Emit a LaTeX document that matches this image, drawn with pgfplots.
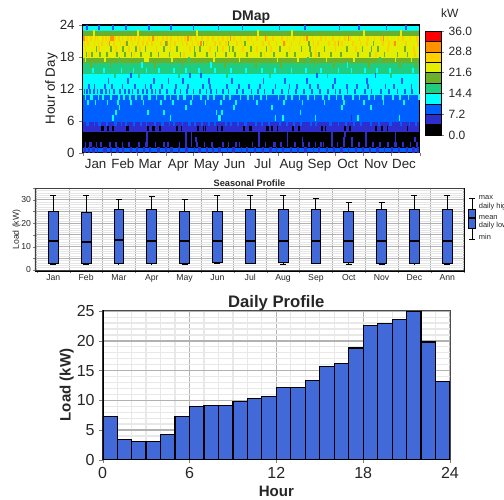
\documentclass[border=0pt]{standalone}
\usepackage{fontspec}
\setmainfont{Liberation Sans}
\usepackage{pgfplots}
\pgfplotsset{compat=1.18}
\usepgfplotslibrary{statistics}

\definecolor{lvla}{HTML}{000000}
\definecolor{lvlb}{HTML}{2E2ECF}
\definecolor{lvlc}{HTML}{0060FF}
\definecolor{lvld}{HTML}{00FFFF}
\definecolor{lvle}{HTML}{1FCC80}
\definecolor{lvlf}{HTML}{6AB02A}
\definecolor{lvlg}{HTML}{E4EE00}
\definecolor{lvlh}{HTML}{FFD000}
\definecolor{lvli}{HTML}{FF9000}
\definecolor{lvlj}{HTML}{FF0000}
\definecolor{barblue}{HTML}{4169D8}

% one day by one hour of the heat map
\pgfdeclareplotmark{cell}{\pgfpathrectangle{\pgfpoint{-0.62pt}{-2pt}}{\pgfpoint{1.24pt}{4pt}}\pgfusepathqfill}

\pgfplotsset{
  every axis/.append style={/pgf/number format/assume math mode=true},
  cells/.style={only marks,mark=cell,mark options={draw=none,fill=#1},forget plot},
  colormap={dmap}{color=(lvla) color=(lvlb) color=(lvlc) color=(lvld) color=(lvle)
    color=(lvlf) color=(lvlg) color=(lvlh) color=(lvli) color=(lvlj)},
  seasbox/.style={boxplot prepared={draw position=#1},fill=barblue,draw=black,line width=0.75pt,solid,
    boxplot/box extend=0.3,boxplot/whisker extend=0.18}
}

\begin{document}
\begin{tikzpicture}
\useasboundingbox (0,0) rectangle (378pt,-375pt);

% ---- DMap
\begin{axis}[
  at={(62pt,-18.75pt)},anchor=north west,scale only axis,
  width=252.75pt,height=95.8pt,
  xmin=0,xmax=365,ymin=0,ymax=24,
  xtick={0,31,59,90,120,151,181,212,243,273,304,334,365},
  xticklabels={Jan,Feb,Mar,Apr,May,Jun,Jul,Aug,Sep,Oct,Nov,Dec},
  x tick label as interval,
  ytick={0,6,...,24},
  tick align=outside,tick pos=left,
  tick label style={font=\fontsize{10}{12}\selectfont,text=black!85},
  xticklabel style={xshift=-1pt,yshift=1.5pt,text height=7.3pt,text depth=0pt},
  major tick length=2.5pt,
  title={DMap},
  title style={font=\bfseries\fontsize{10.5}{12}\selectfont,text=black!85,yshift=-8.5pt},
  ylabel={Hour of Day},
  every axis y label/.style={at={(rel axis cs:0,0.5)},rotate=90,anchor=center,yshift=23.5pt,
    font=\fontsize{10}{12}\selectfont,text=black!90},
  colormap name=dmap,colormap access=piecewise constant,
  point meta min=0,point meta max=36,
  axis on top,axis line style={line width=0.8pt}
]
\addplot[matrix plot*,mesh/cols=2,point meta=explicit] table[meta=c] {
x y c
0 0.5 9
365 0.5 9
0 1.5 1.8
365 1.5 1.8
0 2.5 1.8
365 2.5 1.8
0 3.5 1.8
365 3.5 1.8
0 4.5 5.4
365 4.5 5.4
0 5.5 5.4
365 5.5 5.4
0 6.5 9
365 6.5 9
0 7.5 9
365 7.5 9
0 8.5 9
365 8.5 9
0 9.5 9
365 9.5 9
0 10.5 9
365 10.5 9
0 11.5 12.6
365 11.5 12.6
0 12.5 12.6
365 12.5 12.6
0 13.5 12.6
365 13.5 12.6
0 14.5 12.6
365 14.5 12.6
0 15.5 16.2
365 15.5 16.2
0 16.5 16.2
365 16.5 16.2
0 17.5 19.8
365 17.5 19.8
0 18.5 23.4
365 18.5 23.4
0 19.5 23.4
365 19.5 23.4
0 20.5 23.4
365 20.5 23.4
0 21.5 23.4
365 21.5 23.4
0 22.5 19.8
365 22.5 19.8
0 23.5 12.6
365 23.5 12.6
};
\addplot[cells=lvla] coordinates {
(21,4.5)(22,4.5)(27,4.5)(28,4.5)(33,4.5)(48,4.5)(49,4.5)(71,4.5)(76,4.5)(77,4.5)(84,4.5)(102,4.5)(107,4.5)(125,4.5)(131,4.5)(133,4.5)(146,4.5)(151,4.5)(175,4.5)(181,4.5)(182,4.5)(200,4.5)(201,4.5)(205,4.5)(211,4.5)(228,4.5)(234,4.5)(259,4.5)(263,4.5)(284,4.5)(289,4.5)(290,4.5)(318,4.5)(324,4.5)(330,4.5)(352,4.5)
};
\addplot[cells=lvlb] coordinates {
(2,.5)(3,.5)(7,.5)(11,.5)(12,.5)(16,.5)(23,.5)(24,.5)(25,.5)(31,.5)(37,.5)(38,.5)(44,.5)(52,.5)(53,.5)(59,.5)(66,.5)(67,.5)(73,.5)(81,.5)(82,.5)(83,.5)(90,.5)(96,.5)(97,.5)(104,.5)(112,.5)(113,.5)(121,.5)(126,.5)(127,.5)(135,.5)(141,.5)(148,.5)(149,.5)(157,.5)(163,.5)(164,.5)(172,.5)(178,.5)(186,.5)(187,.5)(195,.5)(203,.5)(204,.5)(210,.5)(217,.5)(225,.5)(226,.5)(233,.5)(241,.5)(242,.5)(250,.5)(256,.5)(264,.5)(265,.5)(272,.5)(280,.5)(281,.5)(288,.5)(296,.5)(303,.5)(304,.5)(311,.5)(319,.5)(320,.5)(327,.5)(335,.5)(342,.5)(343,.5)(351,.5)(358,.5)(359,.5)(363,.5)
(3,1.5)(8,1.5)(9,1.5)(15,1.5)(20,1.5)(29,1.5)(30,1.5)(36,1.5)(43,1.5)(50,1.5)(61,1.5)(68,1.5)(70,1.5)(79,1.5)(88,1.5)(92,1.5)(93,1.5)(105,1.5)(112,1.5)(118,1.5)(124,1.5)(132,1.5)(140,1.5)(152,1.5)(158,1.5)(166,1.5)(170,1.5)(184,1.5)(191,1.5)(198,1.5)(207,1.5)(208,1.5)(215,1.5)(222,1.5)(230,1.5)(238,1.5)(239,1.5)(245,1.5)(252,1.5)(258,1.5)(261,1.5)(270,1.5)(276,1.5)(283,1.5)(292,1.5)(299,1.5)(307,1.5)(314,1.5)(315,1.5)(322,1.5)(331,1.5)(338,1.5)(339,1.5)(340,1.5)(347,1.5)(355,1.5)(362,1.5)
(70,2.5)(112,2.5)(118,2.5)(123,2.5)(191,2.5)(222,2.5)(238,2.5)(270,2.5)(283,2.5)(292,2.5)(307,2.5)(339,2.5)(360,2.5)
(70,3.5)(112,3.5)(118,3.5)(191,3.5)(222,3.5)(270,3.5)(284,3.5)(307,3.5)(339,3.5)
(150,6.5)(291,6.5)
};
\addplot[cells=lvlc] coordinates {
(4,5.5)(5,5.5)(6,5.5)(13,5.5)(18,5.5)(19,5.5)(26,5.5)(35,5.5)(36,5.5)(42,5.5)(47,5.5)(55,5.5)(56,5.5)(63,5.5)(69,5.5)(78,5.5)(86,5.5)(87,5.5)(94,5.5)(99,5.5)(108,5.5)(115,5.5)(116,5.5)(122,5.5)(129,5.5)(137,5.5)(143,5.5)(144,5.5)(155,5.5)(161,5.5)(168,5.5)(176,5.5)(177,5.5)(188,5.5)(194,5.5)(202,5.5)(213,5.5)(214,5.5)(221,5.5)(229,5.5)(236,5.5)(237,5.5)(247,5.5)(253,5.5)(268,5.5)(269,5.5)(277,5.5)(285,5.5)(294,5.5)(301,5.5)(302,5.5)(312,5.5)(321,5.5)(333,5.5)(334,5.5)(345,5.5)(354,5.5)(361,5.5)
};
\addplot[cells=lvld] coordinates {
(33,6.5)(95,6.5)(148,6.5)(149,6.5)(209,6.5)(217,6.5)(252,6.5)(298,6.5)(343,6.5)
(36,7.5)(71,7.5)(88,7.5)(145,7.5)(151,7.5)(236,7.5)
(40,8.5)(112,8.5)(164,8.5)(205,8.5)(281,8.5)(312,8.5)
(6,9.5)(14,9.5)(27,9.5)(38,9.5)(52,9.5)(66,9.5)(85,9.5)(98,9.5)(117,9.5)(133,9.5)(150,9.5)(166,9.5)(189,9.5)(218,9.5)(238,9.5)(262,9.5)(283,9.5)(305,9.5)(326,9.5)(348,9.5)
(3,10.5)(9,10.5)(10,10.5)(17,10.5)(22,10.5)(30,10.5)(31,10.5)(39,10.5)(45,10.5)(51,10.5)(58,10.5)(64,10.5)(72,10.5)(73,10.5)(80,10.5)(89,10.5)(95,10.5)(103,10.5)(110,10.5)(111,10.5)(119,10.5)(128,10.5)(136,10.5)(142,10.5)(153,10.5)(159,10.5)(160,10.5)(171,10.5)(179,10.5)(185,10.5)(193,10.5)(199,10.5)(212,10.5)(220,10.5)(227,10.5)(235,10.5)(244,10.5)(251,10.5)(260,10.5)(267,10.5)(275,10.5)(282,10.5)(293,10.5)(300,10.5)(310,10.5)(316,10.5)(325,10.5)(336,10.5)(344,10.5)(353,10.5)(364,10.5)
};
\addplot[cells=lvlc] coordinates {
(2,11.5)(5,11.5)(8,11.5)(12,11.5)(16,11.5)(20,11.5)(21,11.5)(25,11.5)(29,11.5)(34,11.5)(40,11.5)(41,11.5)(46,11.5)(50,11.5)(54,11.5)(60,11.5)(65,11.5)(70,11.5)(75,11.5)(79,11.5)(84,11.5)(91,11.5)(92,11.5)(100,11.5)(106,11.5)(113,11.5)(120,11.5)(127,11.5)(134,11.5)(139,11.5)(145,11.5)(152,11.5)(158,11.5)(167,11.5)(174,11.5)(183,11.5)(190,11.5)(197,11.5)(206,11.5)(216,11.5)(223,11.5)(231,11.5)(240,11.5)(248,11.5)(249,11.5)(257,11.5)(266,11.5)(274,11.5)(279,11.5)(287,11.5)(295,11.5)(306,11.5)(313,11.5)(323,11.5)(332,11.5)(341,11.5)(349,11.5)(357,11.5)
(7,12.5)(13,12.5)(24,12.5)(32,12.5)(43,12.5)(57,12.5)(68,12.5)(74,12.5)(86,12.5)(101,12.5)(114,12.5)(130,12.5)(138,12.5)(156,12.5)(169,12.5)(180,12.5)(192,12.5)(209,12.5)(224,12.5)(232,12.5)(246,12.5)(255,12.5)(271,12.5)(286,12.5)(297,12.5)(309,12.5)(328,12.5)(337,12.5)(356,12.5)
(28,13.5)(49,13.5)(77,13.5)(93,13.5)(109,13.5)(137,13.5)(162,13.5)(196,13.5)(219,13.5)(243,13.5)(273,13.5)(308,13.5)(346,13.5)
(52,14.5)(116,14.5)(128,14.5)(254,14.5)(317,14.5)
(5,23.5)(18,23.5)(33,23.5)(47,23.5)(72,23.5)(96,23.5)(120,23.5)(147,23.5)(173,23.5)(213,23.5)(241,23.5)(278,23.5)(299,23.5)(329,23.5)(350,23.5)
};
\addplot[cells=lvle] coordinates {
(35,14.5)(61,14.5)(104,14.5)(156,14.5)(203,14.5)(265,14.5)(334,14.5)
(40,17.5)(115,17.5)(244,17.5)(322,17.5)
};
\addplot[cells=lvld] coordinates {
(11,15.5)(23,15.5)(42,15.5)(55,15.5)(69,15.5)(83,15.5)(99,15.5)(112,15.5)(126,15.5)(143,15.5)(161,15.5)(177,15.5)(194,15.5)(208,15.5)(226,15.5)(242,15.5)(258,15.5)(277,15.5)(291,15.5)(306,15.5)(319,15.5)(333,15.5)(358,15.5)
(64,16.5)(139,16.5)(287,16.5)
};
\addplot[cells=lvlf] coordinates {
(9,16.5)(30,16.5)(78,16.5)(108,16.5)(154,16.5)(188,16.5)(215,16.5)(251,16.5)(272,16.5)(310,16.5)(344,16.5)(361,16.5)
(4,18.5)(10,18.5)(19,18.5)(26,18.5)(37,18.5)(46,18.5)(53,18.5)(63,18.5)(74,18.5)(82,18.5)(94,18.5)(106,18.5)(122,18.5)(135,18.5)(144,18.5)(155,18.5)(165,18.5)(178,18.5)(193,18.5)(207,18.5)(221,18.5)(230,18.5)(247,18.5)(256,18.5)(269,18.5)(280,18.5)(298,18.5)(311,18.5)(327,18.5)(341,18.5)(352,18.5)
(15,19.5)(31,19.5)(44,19.5)(58,19.5)(68,19.5)(88,19.5)(102,19.5)(121,19.5)(127,19.5)(146,19.5)(159,19.5)(163,19.5)(182,19.5)(199,19.5)(214,19.5)(237,19.5)(246,19.5)(262,19.5)(286,19.5)(303,19.5)(313,19.5)(320,19.5)(349,19.5)
(48,20.5)(90,20.5)(131,20.5)(158,20.5)(176,20.5)(245,20.5)(315,20.5)
};
\addplot[cells=lvlg] coordinates {
(3,17.5)(24,17.5)(67,17.5)(68,17.5)(69,17.5)(70,17.5)(71,17.5)(97,17.5)(142,17.5)(170,17.5)(211,17.5)(233,17.5)(264,17.5)(294,17.5)(339,17.5)(356,17.5)
(12,22.5)(60,22.5)(124,22.5)(190,22.5)(227,22.5)(305,22.5)(345,22.5)
};
\addplot[cells=lvlh] coordinates {
(7,18.5)(56,18.5)(110,18.5)(197,18.5)(253,18.5)(318,18.5)(360,18.5)
(3,19.5)(18,19.5)(36,19.5)(50,19.5)(62,19.5)(80,19.5)(95,19.5)(116,19.5)(138,19.5)(152,19.5)(174,19.5)(189,19.5)(204,19.5)(224,19.5)(252,19.5)(274,19.5)(296,19.5)(331,19.5)(359,19.5)
(2,20.5)(6,20.5)(13,20.5)(17,20.5)(21,20.5)(27,20.5)(34,20.5)(41,20.5)(46,20.5)(54,20.5)(60,20.5)(65,20.5)(70,20.5)(75,20.5)(85,20.5)(95,20.5)(100,20.5)(108,20.5)(113,20.5)(119,20.5)(125,20.5)(134,20.5)(143,20.5)(149,20.5)(155,20.5)(167,20.5)(172,20.5)(185,20.5)(195,20.5)(202,20.5)(210,20.5)(219,20.5)(226,20.5)(235,20.5)(250,20.5)(255,20.5)(267,20.5)(273,20.5)(281,20.5)(293,20.5)(301,20.5)(308,20.5)(325,20.5)(332,20.5)(337,20.5)(350,20.5)(363,20.5)
(4,21.5)(5,21.5)(9,21.5)(14,21.5)(16,21.5)(22,21.5)(25,21.5)(28,21.5)(35,21.5)(39,21.5)(43,21.5)(49,21.5)(52,21.5)(57,21.5)(61,21.5)(66,21.5)(72,21.5)(77,21.5)(81,21.5)(87,21.5)(91,21.5)(96,21.5)(103,21.5)(107,21.5)(111,21.5)(117,21.5)(123,21.5)(129,21.5)(136,21.5)(141,21.5)(147,21.5)(152,21.5)(157,21.5)(164,21.5)(171,21.5)(179,21.5)(183,21.5)(189,21.5)(200,21.5)(206,21.5)(216,21.5)(222,21.5)(229,21.5)(236,21.5)(240,21.5)(249,21.5)(258,21.5)(263,21.5)(271,21.5)(278,21.5)(284,21.5)(290,21.5)(300,21.5)(309,21.5)(316,21.5)(323,21.5)(330,21.5)(342,21.5)(347,21.5)(355,21.5)(362,21.5)
};
\addplot[cells=lvli] coordinates {
(29,20.5)(92,20.5)(128,20.5)(218,20.5)(277,20.5)(338,20.5)
(1,21.5)(2,21.5)(31,21.5)(32,21.5)(33,21.5)(76,21.5)(114,21.5)(160,21.5)(198,21.5)(243,21.5)(288,21.5)(326,21.5)
};
\draw[line width=0.8pt] (rel axis cs:0,0) rectangle (rel axis cs:1,1);
\end{axis}

% ---- colour key
\begin{axis}[
  at={(319pt,-23.25pt)},anchor=north west,scale only axis,
  width=12pt,height=78pt,
  xmin=-0.5,xmax=0.5,ymin=0,ymax=36,
  xtick=\empty,
  ytick={0,7.2,14.4,21.6,28.8,36},
  ytick pos=right,yticklabel pos=right,tick align=outside,
  yticklabel style={/pgf/number format/fixed,/pgf/number format/fixed zerofill,/pgf/number format/precision=1,
    font=\fontsize{9}{11}\selectfont,text=black!85},
  major tick length=2pt,
  ybar stacked,bar width=12pt,
  title={kW},
  title style={font=\fontsize{9}{11}\selectfont,text=black!85,yshift=0.7pt,xshift=12.4pt},
  axis line style={line width=0.6pt}
]
\addplot[fill=lvla,draw=black] coordinates {(0,3.6)};
\addplot[fill=lvlb,draw=black] coordinates {(0,3.6)};
\addplot[fill=lvlc,draw=black] coordinates {(0,3.6)};
\addplot[fill=lvld,draw=black] coordinates {(0,3.6)};
\addplot[fill=lvle,draw=black] coordinates {(0,3.6)};
\addplot[fill=lvlf,draw=black] coordinates {(0,3.6)};
\addplot[fill=lvlg,draw=black] coordinates {(0,3.6)};
\addplot[fill=lvlh,draw=black] coordinates {(0,3.6)};
\addplot[fill=lvli,draw=black] coordinates {(0,3.6)};
\addplot[fill=lvlj,draw=black] coordinates {(0,3.6)};
\end{axis}

% ---- Seasonal Profile
\begin{axis}[
  at={(26.25pt,-141.2pt)},anchor=north west,scale only axis,
  width=321.75pt,height=62pt,
  xmin=0.443,xmax=13.51,ymin=-0.4,ymax=35,
  xtick={0.5,1.5,...,13.5},
  xticklabels={Jan,Feb,Mar,Apr,May,Jun,Jul,Aug,Sep,Oct,Nov,Dec,Ann},
  x tick label as interval,
  ytick={0,5,...,35},
  yticklabels={0,,10,,20,,30,},
  minor y tick num=4,
  grid=both,
  major grid style={gray!60,line width=0.75pt},
  minor grid style={gray!20,line width=0.6pt},
  tick align=outside,tick pos=left,
  major tick length=1.5pt,minor tick length=0pt,
  tick label style={font=\fontsize{6.5}{8}\selectfont,text=black!85},
  xticklabel style={yshift=3pt,text height=4.8pt,text depth=0pt},
  yticklabel style={xshift=2pt},
  title={Seasonal Profile},
  title style={font=\bfseries\fontsize{6.9}{8}\selectfont,text=black!85,yshift=-8pt},
  ylabel={Load (kW)},
  every axis y label/.style={at={(rel axis cs:0,0.5)},rotate=90,anchor=center,yshift=13.7pt,
    font=\fontsize{6.5}{8}\selectfont,text=black!85},
  boxplot/draw direction=y,
  boxplot/every median/.style={line width=1.4pt}
]
\addplot[seasbox=1,boxplot prepared={lower whisker=2.2,lower quartile=2.9,median=12.3,upper quartile=25.1,upper whisker=31.7}] coordinates {};
\addplot[seasbox=2,boxplot prepared={lower whisker=2.2,lower quartile=2.9,median=11.9,upper quartile=24.8,upper whisker=31.7}] coordinates {};
\addplot[seasbox=3,boxplot prepared={lower whisker=2.6,lower quartile=2.7,median=12.8,upper quartile=25.7,upper whisker=30}] coordinates {};
\addplot[seasbox=4,boxplot prepared={lower whisker=2.6,lower quartile=2.7,median=12.3,upper quartile=26.1,upper whisker=31.3}] coordinates {};
\addplot[seasbox=5,boxplot prepared={lower whisker=2.2,lower quartile=2.9,median=12.3,upper quartile=25.1,upper whisker=30}] coordinates {};
\addplot[seasbox=6,boxplot prepared={lower whisker=2.6,lower quartile=3.2,median=12.3,upper quartile=25.1,upper whisker=32.1}] coordinates {};
\addplot[seasbox=7,boxplot prepared={lower whisker=2.6,lower quartile=2.9,median=12.3,upper quartile=25.7,upper whisker=31.7}] coordinates {};
\addplot[seasbox=8,boxplot prepared={lower whisker=2.2,lower quartile=3.2,median=12.6,upper quartile=26.1,upper whisker=31.7}] coordinates {};
\addplot[seasbox=9,boxplot prepared={lower whisker=2.6,lower quartile=2.9,median=12.3,upper quartile=25.7,upper whisker=30.8}] coordinates {};
\addplot[seasbox=10,boxplot prepared={lower whisker=2.2,lower quartile=3.2,median=12.3,upper quartile=25.2,upper whisker=28.9}] coordinates {};
\addplot[seasbox=11,boxplot prepared={lower whisker=2.2,lower quartile=2.9,median=12.3,upper quartile=25.7,upper whisker=29.1}] coordinates {};
\addplot[seasbox=12,boxplot prepared={lower whisker=2.6,lower quartile=2.7,median=12.3,upper quartile=25.7,upper whisker=32.1}] coordinates {};
\addplot[seasbox=13,boxplot prepared={lower whisker=2.2,lower quartile=2.9,median=12.3,upper quartile=25.7,upper whisker=32.1}] coordinates {};
\draw[black!75,line width=0.7pt] (rel axis cs:0,1) -- (rel axis cs:1,1) -- (rel axis cs:1,0);
\draw[black!75,line width=1pt] (rel axis cs:0,1) -- (rel axis cs:0,0) -- (rel axis cs:1,0);
\end{axis}

% ---- key of the box
\begin{axis}[
  at={(348.75pt,-148.5pt)},anchor=north west,scale only axis,
  width=10.5pt,height=30.75pt,
  xmin=0,xmax=1,ymin=0,ymax=41,
  hide axis,
  boxplot/draw direction=y,
  boxplot/every median/.style={line width=1.4pt}
]
\addplot[fill=barblue,draw=black,line width=0.75pt,solid,
  boxplot/box extend=0.57,boxplot/whisker extend=0.36,
  boxplot prepared={draw position=0.5,lower whisker=0,lower quartile=11,median=21,upper quartile=30,upper whisker=41}] coordinates {};
\end{axis}
\begin{scope}[every node/.style={anchor=west,font=\fontsize{5.6}{6}\selectfont,text=black!85,inner sep=0pt}]
\node at (359pt,-147.8pt) {max};
\node at (359pt,-155.3pt) {daily high};
\node at (359pt,-162.8pt) {mean};
\node at (359pt,-169.5pt) {daily low};
\node at (359pt,-177.8pt) {min};
\end{scope}

% ---- Daily Profile
\begin{axis}[
  at={(77pt,-232.5pt)},anchor=north west,scale only axis,
  width=260.5pt,height=112.3pt,
  xmin=0,xmax=24,ymin=0,ymax=25.2,
  xtick={0,6,...,24},ytick={0,5,...,25},
  minor x tick num=5,minor y tick num=4,
  grid=both,
  major grid style={gray!60,line width=0.9pt},
  minor grid style={gray!18,line width=0.9pt},
  tick align=outside,tick pos=left,
  major tick length=2.5pt,minor tick length=0pt,
  tick label style={font=\fontsize{12}{14}\selectfont,text=black!85},
  title={Daily Profile},
  title style={font=\bfseries\fontsize{12.5}{14}\selectfont,text=black!85,yshift=-10pt},
  xlabel={Hour},
  ylabel={Load (kW)},
  every axis x label/.style={at={(rel axis cs:0.5,0)},anchor=center,yshift=-23.5pt,
    font=\bfseries\fontsize{11.3}{13}\selectfont,text=black!85},
  every axis y label/.style={at={(rel axis cs:0,0.5)},rotate=90,anchor=center,yshift=27pt,
    font=\bfseries\fontsize{11.3}{13}\selectfont,text=black!85},
  axis line style={black!70,line width=0.7pt}
]
\addplot[ybar interval,fill=barblue,draw=black,line width=0.9pt] coordinates {
(0,7.3)(1,3.4)(2,3.1)(3,3.1)(4,4.2)(5,7.3)(6,8.9)(7,9.1)(8,9.1)(9,9.8)(10,10.3)(11,10.6)
(12,12.1)(13,12.1)(14,13.4)(15,15.7)(16,16.2)(17,18.8)(18,22.6)(19,22.9)(20,23.6)(21,25)
(22,19.8)(23,13.1)(24,0)
};
\draw[black!70,line width=0.7pt] (rel axis cs:0,1) -- (rel axis cs:1,1) -- (rel axis cs:1,0);
\draw[black,line width=1.3pt] (rel axis cs:0,1) -- (rel axis cs:0,0) -- (rel axis cs:1,0);
\end{axis}
\end{tikzpicture}
\end{document}
